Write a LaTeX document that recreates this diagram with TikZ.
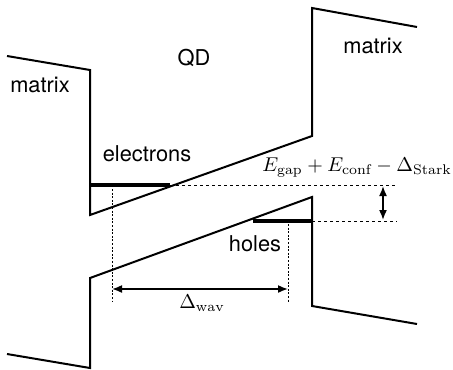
\documentclass[tikz,border=0pt]{standalone}
\usepackage{fontspec}
\setsansfont{TeX Gyre Heros}
\usetikzlibrary{positioning,calc,arrows.meta}

\tikzset{
  band/.style={line width=1pt},
  level/.style={line width=2.4pt},
  guide/.style={line width=0.5pt, dash pattern=on 1.5pt off 1.5pt},
  drop/.style={line width=0.5pt, dash pattern=on 1pt off 0.8pt},
  label/.style={font=\sffamily\fontsize{10.9}{13}\selectfont, inner sep=0pt},
  measure/.style={line width=0.8pt, {Latex[length=5pt,width=4pt]}-{Latex[length=5pt,width=4pt]}}
}

\begin{document}
\begin{tikzpicture}[x=0.5pt, y=-0.5pt]
\useasboundingbox (0,0) rectangle (453,369);

% band edges
\draw[band] (7,56) -- (90,70) -- (90,215) -- (312,136) -- (312,8) -- (417,27);
\draw[band] (7,354) -- (90,368) -- (90,278) -- (312,197) -- (312,306) -- (417,324);

% confined levels
\coordinate (eL) at (90,185);
\coordinate (eR) at (170,185);
\coordinate (eEnd) at (395,185);
\coordinate (hL) at (253,221);
\coordinate (hR) at (312,221);
\coordinate (hEnd) at (397,221);
\draw[level] (eL) -- (eR);
\draw[level] (hL) -- (hR);
\draw[guide] (eR) -- (eEnd);
\draw[guide] (hR) -- (hEnd);

% energy difference
\coordinate (gapTop) at (383,186);
\coordinate (gapBot) at (383,220);
\draw[measure] (gapTop) -- (gapBot);

% wave function separation
\coordinate (eDrop) at (112,189);
\coordinate (eFoot) at (112,302);
\coordinate (hDrop) at (288,224);
\coordinate (hFoot) at (288,302);
\draw[drop] (eDrop) -- (eFoot);
\draw[drop] (hDrop) -- (hFoot);
\coordinate (wavL) at (112,289);
\coordinate (wavR) at (288,289);
\draw[measure] (wavL) -- (wavR);

% labels
\node[label] (matrixL) at (40,85) {matrix};
\node[label] (qd) at (194,58) {QD};
\node[label] (matrixR) at (373,46) {matrix};
\node[label] (electrons) at (147,154) {electrons};
\node[label] (holes) at (255,244) {holes};
\node[inner sep=0pt] (wav) at (202,303) {$\Delta_{\mathrm{wav}}$};
\node[inner sep=0pt] (gap) at (357,168) {$E_{\mathrm{gap}}+E_{\mathrm{conf}}-\Delta_{\mathrm{Stark}}$};
\end{tikzpicture}
\end{document}
